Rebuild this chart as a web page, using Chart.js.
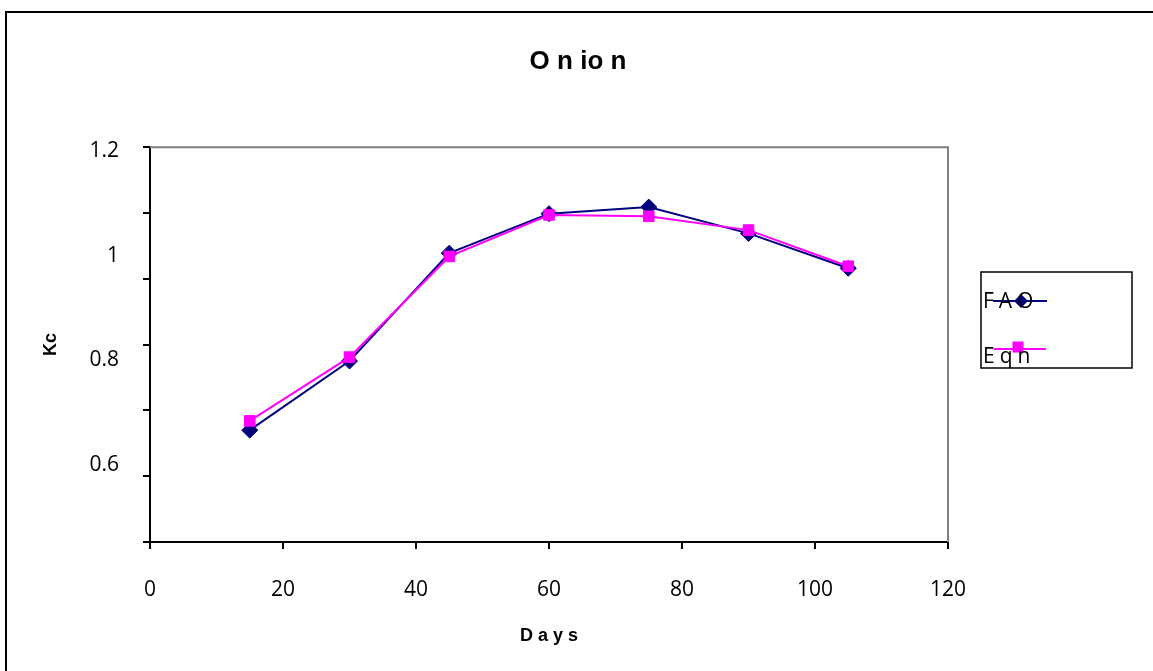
<!DOCTYPE html>
<html>
<head>
<meta charset="utf-8">
<script src="https://cdn.jsdelivr.net/npm/chart.js@4.4.0/dist/chart.umd.min.js"></script>
<style>
  html, body { margin: 0; padding: 0; background: #fff; overflow: hidden; }
  #frame { position: absolute; left: 5px; top: 11px; width: 1200px; height: 700px; border-left: 2px solid #000; border-top: 2px solid #000; }
  #wrap { position: absolute; left: 0; top: 0; width: 1153px; height: 671px; }
</style>
</head>
<body>
<div id="frame"></div>
<div id="wrap"><canvas id="onion-chart"></canvas></div>
<script>
// values
const days = [15, 30, 45, 60, 75, 90, 105];
const faoKc = [0.770, 0.875, 1.039, 1.099, 1.109, 1.069, 1.016];
const eqnKc = [0.784, 0.881, 1.034, 1.097, 1.095, 1.074, 1.019];
const seriesNames = ['FAO', 'Eqn'];
const yLabelValues = [0.6, 0.8, 1.0, 1.2];
const yLabelText = ['0.6', '0.8', '1', '1.2'];

const NAVY = '#000080';
const PINK = '#FF00FF';

function toXY(values) {
    let pts = [];
    values.forEach(function (v, i) {
        pts.push({x: days[i], y: v});
    });
    return pts;
}

// gray frame on top and right of the plot area
const plotFrame = {
    id: 'plotFrame',
    beforeDatasetsDraw(chart) {
        const a = chart.chartArea;
        const ctx = chart.ctx;
        ctx.save();
        ctx.strokeStyle = '#808080';
        ctx.lineWidth = 2;
        ctx.beginPath();
        ctx.moveTo(a.left, a.top);
        ctx.lineTo(a.right, a.top);
        ctx.lineTo(a.right, a.bottom);
        ctx.stroke();
        ctx.restore();
    }
};

// legend drawn like the spreadsheet one: the text sits on top of the sample line
const boxLegend = {
    id: 'boxLegend',
    afterDraw(chart) {
        const ctx = chart.ctx;
        ctx.save();
        ctx.strokeStyle = '#000';
        ctx.lineWidth = 1.5;
        ctx.strokeRect(981, 272, 151, 96);

        const rows = [
            {lineY: 301, x0: 993, x1: 1047, mx: 1021, my: 301, textY: 302},
            {lineY: 349, x0: 994, x1: 1046, mx: 1018, my: 347, textY: 357}
        ];
        chart.data.datasets.forEach(function (ds, i) {
            const r = rows[i];
            ctx.strokeStyle = ds.borderColor;
            ctx.lineWidth = 2;
            ctx.beginPath();
            ctx.moveTo(r.x0, r.lineY);
            ctx.lineTo(r.x1, r.lineY);
            ctx.stroke();
            ctx.fillStyle = ds.backgroundColor;
            if (ds.pointStyle === 'rectRot') {
                ctx.beginPath();
                ctx.moveTo(r.mx, r.my - 7);
                ctx.lineTo(r.mx + 7, r.my);
                ctx.lineTo(r.mx, r.my + 7);
                ctx.lineTo(r.mx - 7, r.my);
                ctx.closePath();
                ctx.fill();
            } else {
                ctx.fillRect(r.mx - 5.5, r.my - 5.5, 11, 11);
            }
            ctx.fillStyle = '#000';
            ctx.font = '21px "Open Sans"';
            ctx.textBaseline = 'middle';
            ctx.textAlign = 'left';
            if ('letterSpacing' in ctx) {
                ctx.letterSpacing = '5px';
            }
            ctx.fillText(ds.label, 983, r.textY);
        });
        ctx.restore();
    }
};

Chart.defaults.font.family = '"Open Sans", sans-serif';
Chart.defaults.color = '#000';

const onionChart = new Chart('onion-chart', {
    type: 'scatter',
    data: {
        datasets: [
            {
                label: seriesNames[0],
                data: toXY(faoKc),
                showLine: true,
                borderColor: NAVY,
                backgroundColor: NAVY,
                borderWidth: 2,
                pointStyle: 'rectRot',
                pointRadius: 8,
                pointBorderWidth: 1,
                order: 1
            },
            {
                label: seriesNames[1],
                data: toXY(eqnKc),
                showLine: true,
                borderColor: PINK,
                backgroundColor: PINK,
                borderWidth: 2,
                pointStyle: 'rect',
                pointRadius: 7.5,
                pointBorderWidth: 1,
                order: 0
            }
        ]
    },
    options: {
        responsive: true,
        maintainAspectRatio: false,
        animation: false,
        layout: {
            padding: {left: 3, right: 0, top: 0, bottom: 0}
        },
        plugins: {
            legend: {display: false},
            tooltip: {enabled: false},
            title: {
                display: true,
                text: 'O n io n',
                color: '#000',
                font: {family: '"Liberation Sans", Arial, sans-serif', size: 26, weight: 'bold'},
                padding: {top: 46, bottom: 70}
            }
        },
        scales: {
            x: {
                type: 'linear',
                position: 'bottom',
                min: 0,
                max: 120,
                ticks: {
                    stepSize: 20,
                    font: {size: 21},
                    padding: 28
                },
                grid: {
                    drawOnChartArea: false,
                    drawTicks: true,
                    tickLength: 7,
                    color: '#000',
                    lineWidth: 2
                },
                border: {display: true, color: '#000', width: 2},
                title: {
                    display: true,
                    text: 'D a y s',
                    font: {family: '"Liberation Sans", Arial, sans-serif', size: 18, weight: 'bold'},
                    padding: {top: 0, bottom: 24}
                },
                afterFit(scale) {
                    scale.height = 129;
                }
            },
            y: {
                type: 'linear',
                position: 'left',
                weight: 0,
                min: 0.6,
                max: 1.2,
                ticks: {display: false, stepSize: 0.1},
                grid: {
                    drawOnChartArea: false,
                    drawTicks: true,
                    tickLength: 7,
                    color: '#000',
                    lineWidth: 2
                },
                border: {display: true, color: '#000', width: 2},
                afterFit(scale) {
                    scale.width = 7;
                }
            },
            yLabels: {
                type: 'linear',
                position: 'left',
                weight: 1,
                min: 0.4528,
                max: 1.2076,
                afterBuildTicks(scale) {
                    scale.ticks = yLabelValues.map(function (v) { return {value: v}; });
                },
                ticks: {
                    font: {size: 21},
                    padding: 24,
                    callback: function (value) {
                        const i = yLabelValues.findIndex(function (v) { return Math.abs(v - value) < 1e-6; });
                        return i >= 0 ? yLabelText[i] : '';
                    }
                },
                grid: {display: false, drawTicks: false, tickLength: 0},
                border: {display: false},
                title: {
                    display: true,
                    text: 'Kc',
                    font: {family: '"Liberation Sans", Arial, sans-serif', size: 18, weight: 'bold'},
                    padding: {top: 37, bottom: 0}
                },
                afterFit(scale) {
                    scale.width = 140;
                }
            },
            // empty strip on the right that holds the legend box
            legendSpace: {
                type: 'linear',
                position: 'right',
                min: 0,
                max: 1,
                ticks: {display: false},
                grid: {display: false, drawTicks: false},
                border: {display: false},
                afterFit(scale) {
                    scale.width = 205;
                }
            }
        }
    },
    plugins: [plotFrame, boxLegend]
});
</script>
</body>
</html>
